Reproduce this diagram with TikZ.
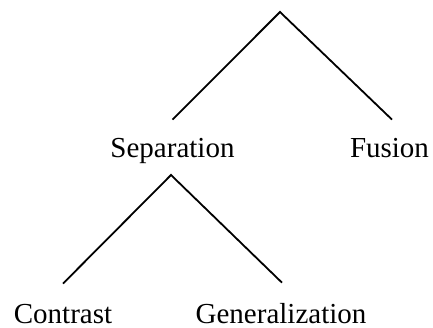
\documentclass[tikz,border=0pt]{standalone}
\usepackage{fontspec}
\setmainfont{Liberation Serif}
\begin{document}
\begin{tikzpicture}[x=1pt,y=-1pt,
  lbl/.style={inner sep=0pt, anchor=base, font=\fontsize{29}{34}\selectfont},
  edge/.style={line width=1.8pt, line join=miter}]
\useasboundingbox (0,0) rectangle (433,328);
\coordinate (top) at (280,12);
\node[lbl] (sep) at (172.5,158) {Separation};
\node[lbl] (fus) at (389.5,158) {Fusion};
\coordinate (sub) at (171,175);
\node[lbl] (con) at (63,323) {Contrast};
\node[lbl] (gen) at (281,323) {Generalization};
\draw[edge] ([yshift=19pt]sep.north) -- (top) -- ([xshift=2.5pt,yshift=19pt]fus.north);
\draw[edge] ([yshift=20pt]con.north) -- (sub) -- ([xshift=1pt,yshift=20pt]gen.north);
\end{tikzpicture}
\end{document}
